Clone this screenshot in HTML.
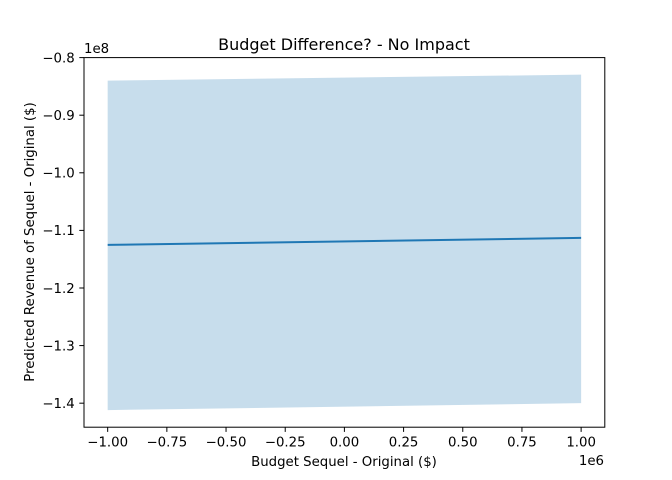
<!DOCTYPE html>
<html><head><meta charset="utf-8"><style>body{margin:0;background:#fff}svg{display:block;font-family:"DejaVu Sans","Liberation Sans",sans-serif}</style></head>
<body>
<svg id="chart" width="672" height="480" viewBox="0 0 672 480"></svg>
<script>
const xs = [-1e6, 1e6];
const lineVals = [-1.1252e8, -1.1130e8];
const upperVals = [-0.840e8, -0.8296e8];
const lowerVals = [-1.412e8, -1.400e8];
const xTickVals = [-1, -0.75, -0.5, -0.25, 0, 0.25, 0.5, 0.75, 1];
const xTickLabels = ["−1.00","−0.75","−0.50","−0.25","0.00","0.25","0.50","0.75","1.00"];
const yTickVals = [-0.8, -0.9, -1.0, -1.1, -1.2, -1.3, -1.4];
const yTickLabels = ["−0.8","−0.9","−1.0","−1.1","−1.2","−1.3","−1.4"];

const L=84,R=604.8,T=57.6,B=427.2;
const xmin=-1.1e6,xmax=1.1e6,ymin=-1.4417e8,ymax=-0.8e8;
const X=v=>L+(v-xmin)/(xmax-xmin)*(R-L);
const Y=v=>B-(v-ymin)/(ymax-ymin)*(B-T);
const svg=document.getElementById('chart');
const NS='http://www.w3.org/2000/svg';
function mk(tag,attrs,parent){const e=document.createElementNS(NS,tag);for(const k in attrs)e.setAttribute(k,attrs[k]);(parent||svg).appendChild(e);return e;}

let pts=xs.map((x,i)=>X(x)+','+Y(upperVals[i]));
for(let i=xs.length-1;i>=0;i--)pts.push(X(xs[i])+','+Y(lowerVals[i]));
const band=mk('polygon',{points:pts.join(' '),fill:'#1f77b4','fill-opacity':'0.25'});


const line=mk('polyline',{points:xs.map((x,i)=>X(x)+','+Y(lineVals[i])).join(' '),fill:'none',stroke:'#1f77b4','stroke-width':'2'});



const frame=mk('rect',{x:L,y:T,width:R-L,height:B-T,fill:'none',stroke:'#000','stroke-width':'1'});



xTickVals.forEach((v,i)=>{const x=X(v*1e6);
 mk('line',{x1:x,x2:x,y1:B,y2:B+4.7,stroke:'#000','stroke-width':'1'});
 const t=mk('text',{x:x,y:B+19.5,'font-size':'13.3','text-anchor':'middle'});t.textContent=xTickLabels[i];
 
 });
yTickVals.forEach((v,i)=>{const y=Y(v*1e8);
 mk('line',{x1:L-4.7,x2:L,y1:y,y2:y,stroke:'#000','stroke-width':'1'});
 const t=mk('text',{x:L-9.3,y:y+4.8,'font-size':'13.3','text-anchor':'end'});t.textContent=yTickLabels[i];
 
 });

function txt(s,a,name){const t=mk('text',a);t.textContent=s;return t;}
txt('1e8',{x:84,y:53,'font-size':'13.3'},'y-offset-label');
txt('1e6',{x:604,y:465,'font-size':'13.3','text-anchor':'end'},'x-offset-label');
txt('Budget Difference? - No Impact',{x:344,y:50,'font-size':'16','text-anchor':'middle'},'chart-title');
txt('Budget Sequel - Original ($)',{x:344,y:466,'font-size':'13.3','text-anchor':'middle'},'x-axis-title');
txt('Predicted Revenue of Sequel - Original ($)',{x:34,y:242,'font-size':'13.3','text-anchor':'middle',transform:'rotate(-90 34 242)'},'y-axis-title');
</script>
</body></html>
